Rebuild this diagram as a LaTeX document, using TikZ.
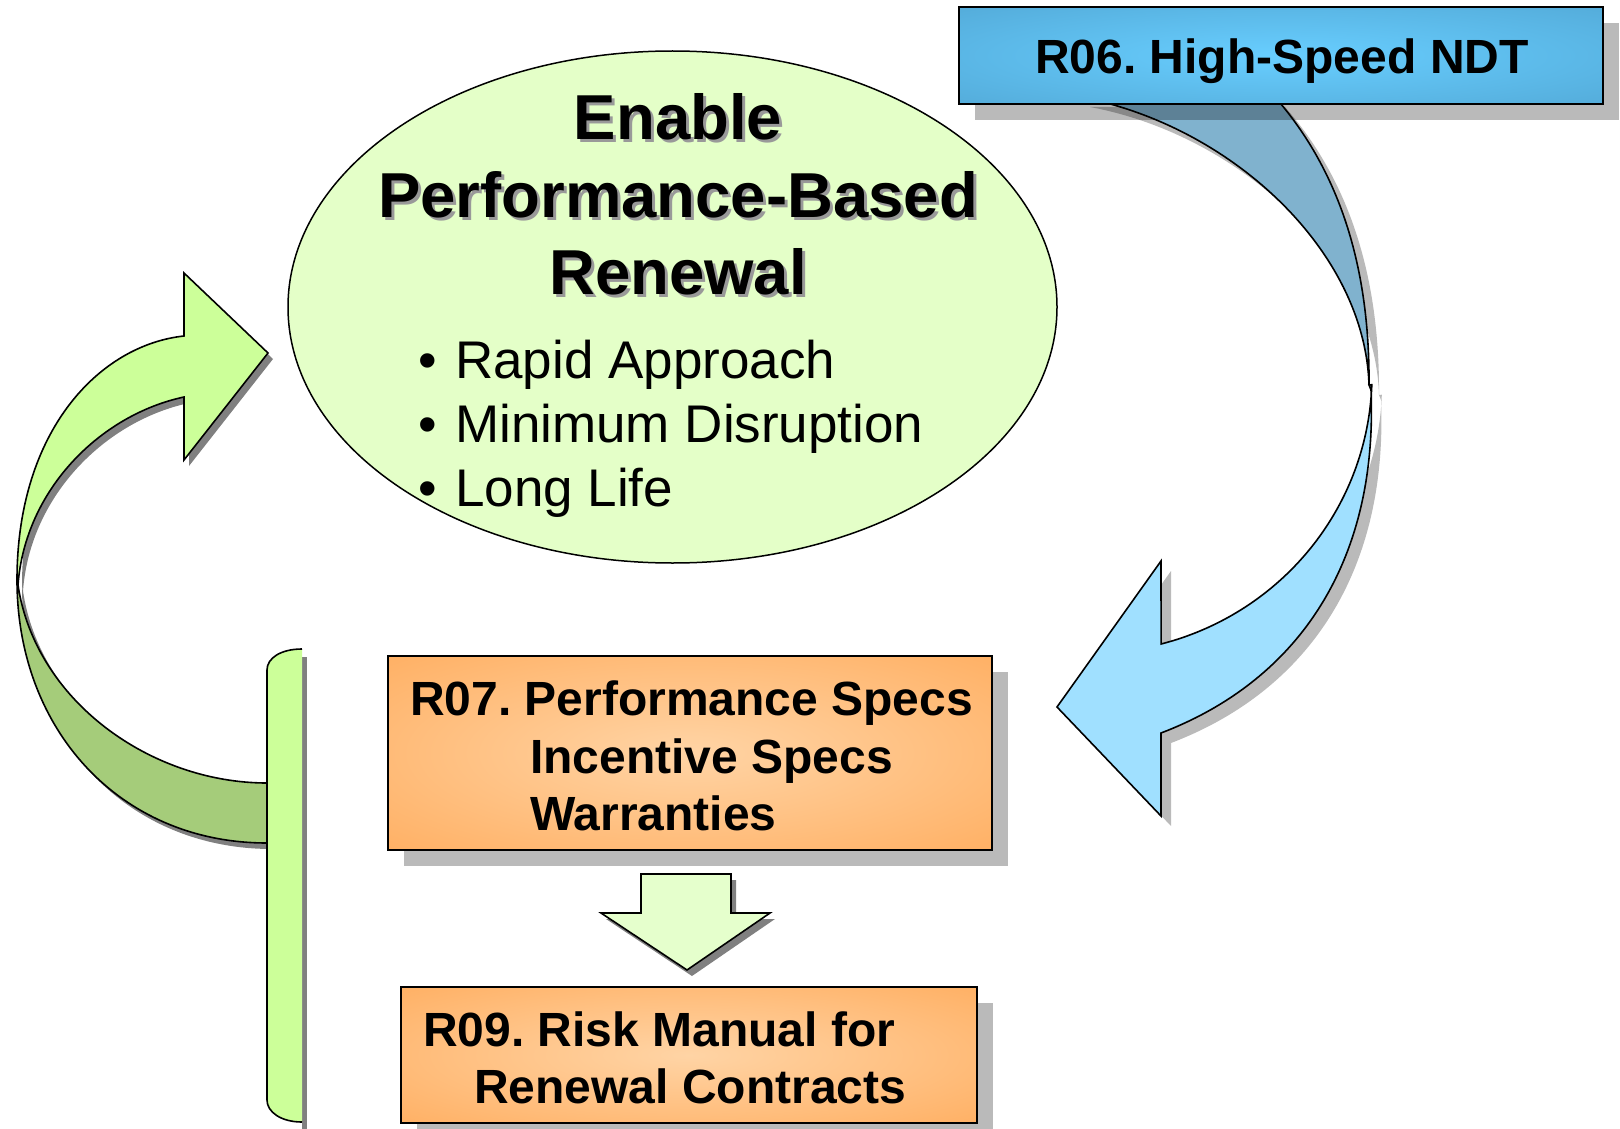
\documentclass[tikz,border=0pt]{standalone}
\usepackage{fontspec}
\setmainfont{Liberation Sans}
\usetikzlibrary{shapes.geometric}

\definecolor{boxorange}{RGB}{255,176,100}
\definecolor{boxorangeglow}{RGB}{255,212,165}
\definecolor{boxblue}{RGB}{84,172,218}
\definecolor{boxblueglow}{RGB}{104,206,255}
\definecolor{goalgreen}{RGB}{228,255,200}
\definecolor{arrowgreen}{RGB}{204,255,153}
\definecolor{arrowgreendark}{RGB}{165,204,122}
\definecolor{arrowblue}{RGB}{160,224,255}
\definecolor{arrowbluedark}{RGB}{128,178,206}
\definecolor{palegreen}{RGB}{229,255,204}
\definecolor{solidshadow}{RGB}{128,128,128}

\pgfdeclareradialshading{orangeglow}{\pgfpoint{0bp}{0bp}}{color(0bp)=(boxorangeglow); color(36bp)=(boxorange); color(50bp)=(boxorange)}
\pgfdeclareradialshading{blueglow}{\pgfpoint{0bp}{0bp}}{color(0bp)=(boxblueglow); color(36bp)=(boxblue); color(50bp)=(boxblue)}

\tikzset{
  outline/.style={draw=black, line width=1.6pt, line join=miter},
  softshadow/.style={fill=black, fill opacity=0.27},
  hardshadow/.style={fill=solidshadow},
  orangebox/.style={rectangle, outline, shading=orangeglow, inner sep=0pt},
  bluebox/.style={rectangle, outline, shading=blueglow, inner sep=0pt},
  boxtext/.style={font=\fontsize{48}{57}\selectfont\bfseries, anchor=base west, inner sep=0pt},
  titletext/.style={font=\fontsize{63.5}{77}\selectfont\bfseries, anchor=base, inner sep=0pt},
  bullettext/.style={font=\fontsize{53}{64}\selectfont, anchor=base west, inner sep=0pt},
}
\frenchspacing

\begin{document}
\begin{tikzpicture}[x=1pt, y=-1pt]
\useasboundingbox (0,0) rectangle (1620,1129);

% ---------- green return arrow (left) ----------
\begin{scope}[shift={(5,6)}]
  \fill[hardshadow] (184,397) .. controls (100,415) and (25,490) .. (18,585)
    -- (17,580) .. controls (17,430) and (100,345) .. (184,336)
    -- (184,273) -- (268,353) -- (184,460) -- cycle;
  \fill[hardshadow] (17,580) .. controls (17,730) and (120,843) .. (267,843)
    -- (267,783) .. controls (150,783) and (35,700) .. (18,585) -- cycle;
\end{scope}
\fill[hardshadow] (302,657) rectangle (307,1129);

\draw[outline, fill=arrowgreendark] (17,580) .. controls (17,730) and (120,843) .. (267,843)
  -- (267,783) .. controls (150,783) and (35,700) .. (18,585) -- cycle;
\draw[outline, fill=arrowgreen] (184,397) .. controls (100,415) and (25,490) .. (18,585)
  -- (17,580) .. controls (17,430) and (100,345) .. (184,336)
  -- (184,273) -- (268,353) -- (184,460) -- cycle;

% upright base of the return arrow
\fill[arrowgreen] (302,649) .. controls (281,649) and (267,658) .. (267,670)
  -- (267,1100) .. controls (267,1112) and (281,1122) .. (302,1122) -- cycle;
\draw[outline] (302,649) .. controls (281,649) and (267,658) .. (267,670)
  -- (267,1100) .. controls (267,1112) and (281,1122) .. (302,1122);

% ---------- central goal ----------
\node[ellipse, draw=black, line width=1.5pt, fill=goalgreen,
      minimum width=769pt, minimum height=512pt] (goal) at (672.5,307) {};

\foreach \ty/\tx in {139.5/Enable, 217/Performance-Based, 294.5/Renewal}{
  \node[titletext, text=black!40] at (681,\ty+3) {\tx};
}
\node[titletext] (t1) at (678,139.5) {Enable};
\node[titletext] (t2) at (678,217) {Performance-Based};
\node[titletext] (t3) at (678,294.5) {Renewal};

\node[bullettext] (b1) at (418,378) {\textbullet};
\node[bullettext] (b2) at (418,442) {\textbullet};
\node[bullettext] (b3) at (418,506) {\textbullet};
\node[bullettext] (l1) at (455,378) {Rapid Approach};
\node[bullettext] (l2) at (455,442) {Minimum Disruption};
\node[bullettext] (l3) at (455,506) {Long Life};

% ---------- blue feed arrow (right) ----------
\begin{scope}[shift={(10,10)}]
  \fill[softshadow] (1080,97) .. controls (1230,125) and (1365,250) .. (1369,385)
    .. controls (1370,250) and (1330,160) .. (1275,97) -- cycle;
  \fill[softshadow] (1369,385) -- plot[smooth, domain=-2:-75.4, samples=30] ({1090+282*cos(\x)},{375-278*sin(\x)})
    -- (1161,561) -- (1057,707) -- (1161,816) -- (1161,733)
    .. controls (1300,680) and (1378,560) .. (1371,390) -- cycle;
\end{scope}
\draw[outline, fill=arrowbluedark] (1080,97) .. controls (1230,125) and (1365,250) .. (1369,385)
  .. controls (1370,250) and (1330,160) .. (1275,97) -- cycle;
\draw[outline, fill=arrowblue] (1369,385) -- plot[smooth, domain=-2:-75.4, samples=30] ({1090+282*cos(\x)},{375-278*sin(\x)})
  -- (1161,561) -- (1057,707) -- (1161,816) -- (1161,733)
  .. controls (1300,680) and (1378,560) .. (1371,390) -- cycle;

% ---------- project boxes with offset shadows ----------
\fill[softshadow] (975,23) rectangle (1619,120);
\fill[softshadow] (404,672) rectangle (1008,866);
\fill[softshadow] (417,1003) rectangle (993,1139);

\node[bluebox, minimum width=644pt, minimum height=97pt] (r06) at (1281,55.5) {};
\node[orangebox, minimum width=604pt, minimum height=194pt] (r07) at (690,753) {};
\node[orangebox, minimum width=576pt, minimum height=136pt] (r09) at (689,1055) {};

\node[boxtext, anchor=base] (r06t) at (1282,74) {R06. High-Speed NDT};
\node[boxtext] (r07t1) at (410,715) {R07. Performance Specs};
\node[boxtext] (r07t2) at (530,773) {Incentive Specs};
\node[boxtext] (r07t3) at (530,830) {Warranties};
\node[boxtext] (r09t1) at (423,1046) {R09. Risk Manual for};
\node[boxtext] (r09t2) at (474,1103) {Renewal Contracts};

% ---------- step arrow R07 -> R09 ----------
\fill[hardshadow, shift={(5,6)}] (641,874) -- (731,874) -- (731,913) -- (770,913) -- (687,970) -- (601,913) -- (641,913) -- cycle;
\draw[outline, fill=palegreen] (641,874) -- (731,874) -- (731,913) -- (770,913) -- (687,970) -- (601,913) -- (641,913) -- cycle;
\end{tikzpicture}
\end{document}
